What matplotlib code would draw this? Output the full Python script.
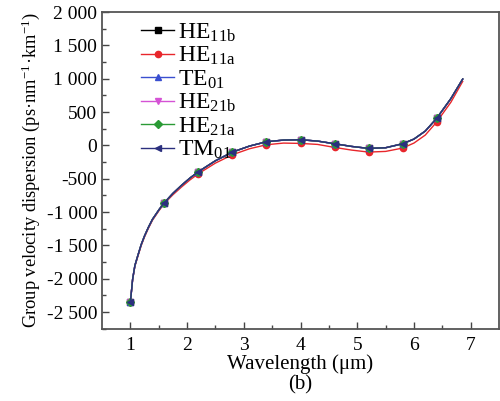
import numpy as np
import matplotlib
matplotlib.use('Agg')
import matplotlib.pyplot as plt

plt.rcParams['font.family'] = ['Liberation Serif', 'DejaVu Serif']
plt.rcParams['mathtext.fontset'] = 'stix'

# wavelength (um) along the curves
wl = [1.0, 1.04, 1.08, 1.13, 1.19, 1.25, 1.32, 1.39, 1.51, 1.6, 1.75, 1.9, 2.05,
      2.2, 2.5, 2.8, 3.1, 3.4, 3.7, 4.0, 4.3, 4.6, 4.9, 5.2, 5.5, 5.8, 6.0,
      6.2, 6.4, 6.65, 6.86]
# wavelengths that carry a marker
marker_wl = [1.0, 1.6, 2.2, 2.8, 3.4, 4.0, 4.6, 5.2, 5.8, 6.4]

upper = [-2355, -2006, -1800, -1657, -1490, -1357, -1225, -1108, -958, -858,
         -720, -600, -490, -394, -230, -100, -10, 55, 80, 85, 65, 25, -15, -45,
         -35, 25, 95, 215, 405, 700, 995]
he11a = [-2355, -2015, -1812, -1670, -1505, -1372, -1240, -1122, -972, -870,
         -740, -625, -518, -424, -265, -140, -50, 10, 35, 30, 15, -30, -70,
         -100, -90, -40, 35, 155, 350, 645, 960]

he11b = upper
te01 = upper
he21b = upper
he21a = upper
tm01 = upper

series = [
    (r'HE$_{\mathregular{11b}}$', he11b, 'black', 's'),
    (r'HE$_{\mathregular{11a}}$', he11a, '#e8262b', 'o'),
    (r'TE$_{\mathregular{01}}$', te01, '#3a4fd0', '^'),
    (r'HE$_{\mathregular{21b}}$', he21b, '#d552d5', 'v'),
    (r'HE$_{\mathregular{21a}}$', he21a, '#2a9a35', 'D'),
    (r'TM$_{\mathregular{01}}$', tm01, '#2b2f7e', '<'),
]

fig = plt.figure(figsize=(5.0, 4.01), dpi=100)
ax = fig.add_axes([0.204, 0.180, 0.794, 0.790])

marks = [i for i, w in enumerate(wl) if w in marker_wl]
for label, vals, col, mk in series:
    ax.plot(wl, vals, color=col, lw=1.0, marker=mk, markersize=4.5,
            markevery=marks, label=label)

ax.set_xlim(0.5, 7.5)
ax.set_ylim(-2750, 2000)
ax.set_xticks([1, 2, 3, 4, 5, 6, 7])
ax.set_xticks(np.arange(1.5, 7.5, 1.0), minor=True)
yt = np.arange(-2500, 2001, 500)
ax.set_yticks(yt)
ax.set_yticklabels([f'{v:,d}'.replace(',', ' ') for v in yt])
ax.set_yticks(np.arange(-2750, 2001, 250), minor=True)

ax.tick_params(which='both', direction='in', labelsize=14, color='#444444')
ax.tick_params(which='major', length=5, width=1)
ax.tick_params(which='minor', length=3, width=1)
ax.tick_params(axis='x', pad=6)
for s in ax.spines.values():
    s.set_color('#555555')
    s.set_linewidth(1.3)

ax.set_xlabel('Wavelength (μm)', fontsize=15, labelpad=0)
ax.set_ylabel(r'Group velocity dispersion (ps·nm$^{\mathregular{-1}}$·km$^{\mathregular{-1}}$)',
              fontsize=13.3, labelpad=3)

ax.legend(loc='upper left', frameon=False, fontsize=17, handlelength=1.4,
          handletextpad=0.15, labelspacing=0.05, borderaxespad=0.0,
          bbox_to_anchor=(0.075, 1.0))

fig.text(0.6, 0.04, '(b)', fontsize=15, ha='center', va='center')

fig.savefig('out.png', dpi=100)
